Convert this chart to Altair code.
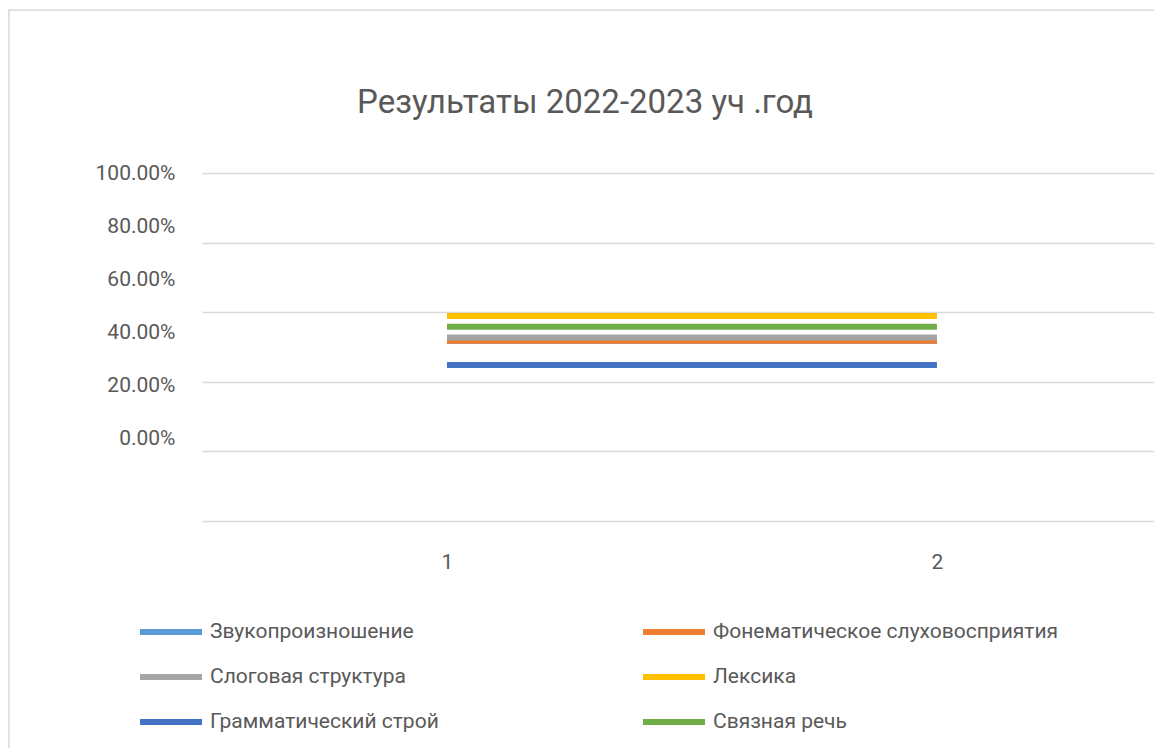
import altair as alt
import pandas as pd

# ---- data ----
series = [
    "Звукопроизношение",
    "Фонематическое слуховосприятия",
    "Слоговая структура",
    "Лексика",
    "Грамматический строй",
    "Связная речь",
]
categories = [1, 2]
# one value per series, same for both categories (share of 1.0)
values_cat1 = [0.518, 0.518, 0.527, 0.589, 0.448, 0.558]
values_cat2 = [0.518, 0.518, 0.527, 0.589, 0.448, 0.558]
colors = ["#5B9BD5", "#ED7D31", "#A5A5A5", "#FFC000", "#4472C4", "#70AD47"]
y_ticks = [0.0, 0.2, 0.4, 0.6, 0.8, 1.0]
title_text = "Результаты 2022-2023 уч .год"

rows = []
for s, v1, v2 in zip(series, values_cat1, values_cat2):
    rows.append({"series": s, "cat": categories[0], "value": v1})
    rows.append({"series": s, "cat": categories[1], "value": v2})
df = pd.DataFrame(rows)

TXT = "#595959"
GRID = "#d9d9d9"
FONT = "Roboto"
FS = 21

x_scale = alt.Scale(domain=[0.5, 2.443], nice=False, zero=False)

lines = alt.Chart(df).mark_line(strokeWidth=6, strokeCap="butt").encode(
    x=alt.X("cat:Q", scale=x_scale,
            axis=alt.Axis(values=categories, format="d", grid=False, domain=False,
                          ticks=False, labelPadding=30, title=None,
                          labelFontSize=FS, labelColor=TXT, labelFont=FONT)),
    y=alt.Y("value:Q", scale=alt.Scale(domain=[0, 1], nice=False, zero=False),
            axis=alt.Axis(values=y_ticks, grid=True, gridColor=GRID, gridWidth=1.5,
                          labels=False, ticks=False, domain=False, title=None,
                          orient="left")),
    color=alt.Color("series:N", sort=series,
                    scale=alt.Scale(domain=series, range=colors),
                    legend=alt.Legend(
                        title=None, orient="none", legendX=-65, legendY=449,
                        direction="horizontal",
                        columns=2, symbolType="stroke", symbolSize=3844,
                        symbolStrokeWidth=6, clipHeight=20, rowPadding=24,
                        columnPadding=201, labelOffset=5, labelLimit=500,
                        labelFontSize=FS, labelColor=TXT, labelFont=FONT,
                        padding=0)),
)

label_axis = alt.Chart(df).mark_point(opacity=0).encode(
    y=alt.Y("value:Q", scale=alt.Scale(domain=[-0.3098, 1.0], nice=False, zero=False),
            axis=alt.Axis(values=y_ticks, format=".2%", orient="left", grid=False,
                          ticks=False, domain=False, labelPadding=27, title=None,
                          labelFontSize=FS, labelColor=TXT, labelFont=FONT)),
)

frame = alt.Chart(alt.Data(values=[{"f": 1}])).mark_rect(
    fillOpacity=0, stroke=GRID, strokeWidth=1.5
).encode(
    x=alt.value(-193), y=alt.value(-163), x2=alt.value(1300), y2=alt.value(900)
)

chart = alt.layer(frame, lines, label_axis).resolve_scale(
    y="independent"
).properties(
    width=952, height=348,
    autosize=alt.AutoSizeParams(type="none"),
    padding={"left": 194, "top": 165, "right": 0, "bottom": 227},
    title=alt.TitleParams(title_text, fontSize=33, color=TXT, font=FONT,
                          fontWeight="normal", anchor="middle", dx=-93, offset=-111),
).configure_view(stroke=None)

chart.save("out.html", embed_options={"renderer": "svg", "actions": False})
